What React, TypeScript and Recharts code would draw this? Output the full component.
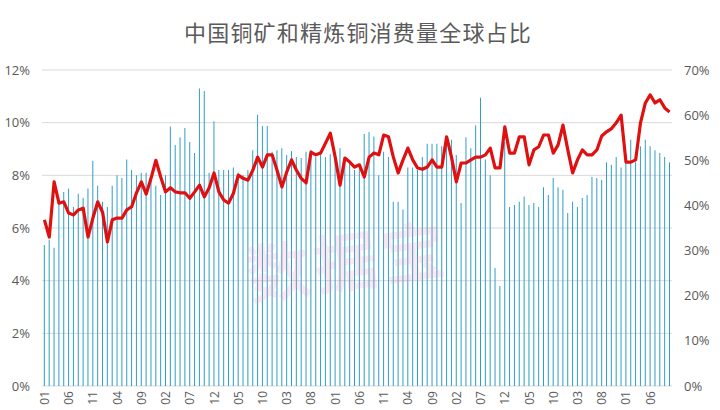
import { Bar, CartesianGrid, ComposedChart, Line, XAxis, YAxis } from 'recharts';

// month labels, one per bar (Jan of the first year onwards)
const monthNames = ['01', '02', '03', '04', '05', '06', '07', '08', '09', '10', '11', '12'];
const months: string[] = [];
for (let i = 0; i < 130; i++) months.push(monthNames[i % 12]);

// 铜矿消费量全球占比 (left axis, %)
const oreShare = [
  5.35, 5.55, 5.25, 7.0, 7.37, 7.5, 6.8, 7.3, 7.15, 7.5,
  8.55, 7.6, 7.0, 6.8, 7.6, 8.0, 7.9, 8.6, 8.2, 8.0,
  8.1, 8.1, 7.9, 7.6, 7.25, 8.0, 9.85, 9.15, 9.45, 9.8,
  9.27, 8.85, 11.3, 11.2, 8.1, 10.05, 8.2, 8.2, 8.2, 8.3,
  8.1, 8.0, 8.2, 8.95, 10.3, 9.87, 9.87, 8.9, 8.95, 9.03,
  8.77, 8.92, 8.7, 8.66, 8.9, 8.95, 8.7, 8.9, 8.7, 8.8,
  8.7, 9.03, 8.6, 8.5, 8.2, 8.4, 9.57, 9.65, 9.47, 8.0,
  8.9, 8.7, 7.0, 7.0, 6.7, 8.3, 8.3, 8.2, 8.7, 9.2,
  9.2, 9.2, 9.1, 9.45, 9.35, 8.77, 6.95, 9.45, 9.03, 9.9,
  10.95, 8.6, 8.0, 4.48, 3.8, 9.27, 6.8, 6.87, 7.0, 7.2,
  6.87, 6.95, 6.8, 7.55, 7.25, 7.9, 7.55, 7.45, 6.57, 7.0,
  6.8, 7.14, 7.25, 7.94, 7.9, 7.82, 8.5, 8.4, 8.7, 8.3,
  8.47, 9.35, 8.5, 9.1, 9.35, 9.1, 8.95, 8.85, 8.7, 8.5,
];

// 精炼铜消费量全球占比 (right axis, %)
const refinedShare = [
  36.8, 33, 45.2, 40.5, 40.8, 38.3, 37.9, 39, 39.4, 33,
  37.2, 40.8, 38.5, 31.9, 36.8, 37.2, 37.2, 39, 39.7, 42.8,
  45.2, 42.5, 46, 50, 46.3, 43, 43.9, 43, 42.8, 42.8,
  41.6, 43, 44.5, 41.9, 43.9, 47.2, 43, 41.2, 40.5, 42.7,
  46.7, 46, 45.6, 47.8, 50.7, 48.5, 51.2, 51.2, 47.8, 44.1,
  47.4, 50.1, 47.8, 46, 45, 51.8, 51.2, 51.6, 53.8, 56,
  50.7, 44.5, 50.5, 49.6, 48.5, 49, 46.3, 50.7, 51.6, 51.2,
  55.6, 55.2, 50.7, 47.2, 50.1, 52.7, 50.1, 48.3, 48, 48.5,
  50.1, 48.5, 48.5, 55.2, 50.7, 45.2, 49.4, 49.4, 50.1, 50.7,
  50.7, 51.2, 52.7, 48.3, 48.3, 57.4, 51.6, 51.6, 55.2, 55.2,
  49, 52.3, 53, 55.6, 55.6, 51.6, 53.4, 57.8, 52.3, 47.2,
  50.1, 52.3, 51.2, 51.2, 52.3, 55.4, 56.3, 57, 58.3, 60,
  49.6, 49.6, 50.1, 58.3, 62.7, 64.5, 62.7, 63.4, 61.6, 60.7,
];

const leftTicks = [0, 2, 4, 6, 8, 10, 12];
const rightTicks = [0, 10, 20, 30, 40, 50, 60, 70];

const data = months.map((m, i) => ({ month: m, ore: oreShare[i], refined: refinedShare[i] }));

const MonthTick = ({ x, y, payload }: any) => (
  <text
    x={x}
    y={y - 3}
    transform={`rotate(-90, ${x}, ${y - 3})`}
    textAnchor="end"
    dominantBaseline="central"
    fontSize={12}
    fill="#595959"
    fontFamily="'Open Sans', sans-serif"
  >
    {payload.value}
  </text>
);

export default function App() {
  return (
    <div style={{ position: 'absolute', left: 0, top: 0, width: 720, height: 410, background: '#fff', overflow: 'hidden' }}>
      <div
        style={{
          position: 'absolute',
          left: 0,
          top: 15,
          width: 716,
          textAlign: 'center',
          fontFamily: "'Noto Sans CJK SC', sans-serif",
          fontSize: 22,
          letterSpacing: 1.2,
          color: '#5a5a5a',
          lineHeight: '32px',
        }}
      >
        中国铜矿和精炼铜消费量全球占比
      </div>
      <ComposedChart
        width={720}
        height={410}
        data={data}
        margin={{ top: 70, right: 0, bottom: 0, left: 0 }}
        barCategoryGap="38%"
      >
        <CartesianGrid yAxisId="left" vertical={false} stroke="#d9d9d9" />
        <XAxis
          dataKey="month"
          interval={4}
          height={24}
          axisLine={false}
          tickLine={false}
          tick={<MonthTick />}
        />
        <YAxis
          yAxisId="left"
          width={42}
          domain={[0, 12]}
          ticks={leftTicks}
          tickFormatter={(v: number) => `${v}%`}
          axisLine={false}
          tickLine={false}
          tickMargin={6}
          tick={{ fontSize: 13, fill: '#595959', fontFamily: "'Open Sans', sans-serif" }}
        />
        <YAxis
          yAxisId="right"
          orientation="right"
          width={48}
          domain={[0, 70]}
          ticks={rightTicks}
          tickFormatter={(v: number) => `${v}%`}
          axisLine={false}
          tickLine={false}
          tickMargin={6}
          tick={{ fontSize: 13, fill: '#595959', fontFamily: "'Open Sans', sans-serif" }}
        />
        <Bar yAxisId="left" dataKey="ore" fill="#2f9ec6" isAnimationActive={false} />
        <Line
          yAxisId="right"
          type="linear"
          dataKey="refined"
          stroke="#e01010"
          strokeWidth={3.2}
          strokeLinejoin="round"
          dot={false}
          isAnimationActive={false}
        />
      </ComposedChart>
      <div
        style={{
          position: 'absolute',
          left: 245,
          top: 212,
          fontFamily: "'Noto Sans CJK SC', sans-serif",
          fontSize: 64,
          fontWeight: 700,
          color: 'rgba(240, 140, 190, 0.18)',
          transform: 'rotate(-8deg)',
          letterSpacing: 4,
          pointerEvents: 'none',
        }}
      >
        数据宝
      </div>
    </div>
  );
}
